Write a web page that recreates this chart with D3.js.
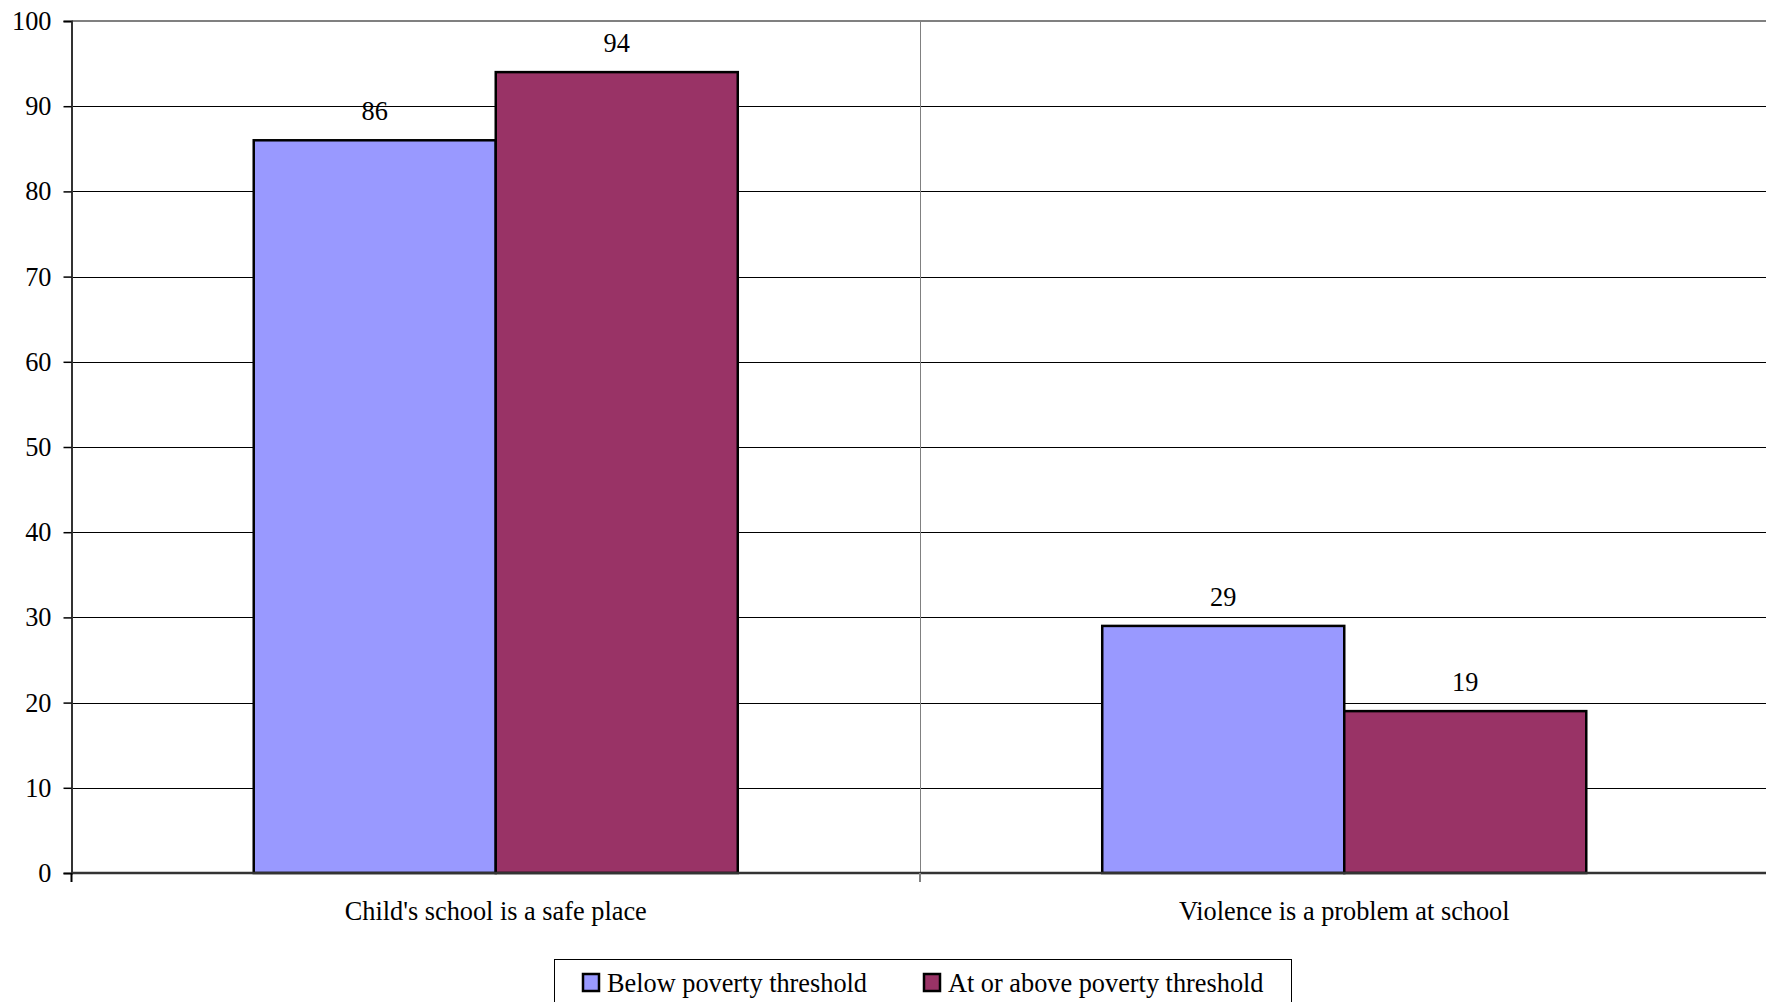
<!DOCTYPE html>
<html>
<head>
<meta charset="utf-8">
<script src="https://cdn.jsdelivr.net/npm/d3@7"></script>
<style>
    body { margin: 0; background: #fff; }
    svg, svg text { font-family: "Liberation Serif", "Times New Roman", serif; }
</style>
</head>
<body>
<main></main>
<script>

// Datos
const categorias = ["Child's school is a safe place", "Violence is a problem at school"];
const series = ["Below poverty threshold", "At or above poverty threshold"];
const debajo = [86, 29];
const encima = [94, 19];
const colores = ["#9999FF", "#993366"];
const ticksY = [0, 10, 20, 30, 40, 50, 60, 70, 80, 90, 100];

const valores = [debajo, encima];

// Tamaño
const [w, h] = [1766, 1002];
const margen = { left: 71.5, right: 1768.5, top: 21, bottom: 873 };
const fuente = '"Liberation Serif", "Times New Roman", serif';
const tamFuente = 26.3;

const svg = d3.select('main')
    .append('svg')
    .attr('width', w)
    .attr('height', h)
    .attr('font-family', fuente);

// Escalas
const xScale = d3.scaleBand()
    .domain(categorias)
    .range([margen.left, margen.right])
    .padding(0);

const xSerie = d3.scaleBand()
    .domain(series)
    .range([0, xScale.bandwidth()])
    .paddingInner(0)
    .paddingOuter(0.753);

const yScale = d3.scaleLinear()
    .domain([0, 100])
    .range([margen.bottom, margen.top]);

// Rejilla horizontal
svg.append('g')
    .selectAll('line')
    .data(ticksY.filter(t => t > 0 && t < 100))
    .enter()
    .append('line')
    .attr('x1', margen.left)
    .attr('x2', margen.right)
    .attr('y1', d => Math.round(yScale(d)) + 0.5)
    .attr('y2', d => Math.round(yScale(d)) + 0.5)
    .attr('stroke', '#000')
    .attr('stroke-width', 1);

// Linea superior (gris)
svg.append('line')
    .attr('x1', margen.left)
    .attr('x2', margen.right)
    .attr('y1', yScale(100))
    .attr('y2', yScale(100))
    .attr('stroke', '#808080')
    .attr('stroke-width', 2);

// Separador vertical entre categorias
svg.append('line')
    .attr('x1', xScale(categorias[1]) + 0.5)
    .attr('x2', xScale(categorias[1]) + 0.5)
    .attr('y1', margen.top)
    .attr('y2', margen.bottom)
    .attr('stroke', '#808080')
    .attr('stroke-width', 1);

// Barras
categorias.forEach((c, i) => {
    svg.append('g')
        .selectAll('rect')
        .data(series)
        .enter()
        .append('rect')
        .attr('x', s => xScale(c) + xSerie(s))
        .attr('y', (s, j) => yScale(valores[j][i]))
        .attr('width', xSerie.bandwidth())
        .attr('height', (s, j) => yScale(0) - yScale(valores[j][i]))
        .attr('fill', (s, j) => colores[j])
        .attr('stroke', '#000')
        .attr('stroke-width', 2.5);

    // Etiquetas de valor
    svg.append('g')
        .selectAll('text')
        .data(series)
        .enter()
        .append('text')
        .attr('x', s => xScale(c) + xSerie(s) + xSerie.bandwidth() / 2)
        .attr('y', (s, j) => yScale(valores[j][i]) - 20)
        .attr('text-anchor', 'middle')
        .attr('font-family', fuente)
        .attr('font-size', tamFuente)
        .attr('fill', '#000')
        .text((s, j) => valores[j][i]);
});

// Eje Y
const ejeY = d3.axisLeft(yScale)
    .tickValues(ticksY)
    .tickSize(8)
    .tickPadding(12);

const gY = svg.append('g')
    .attr('transform', 'translate(' + margen.left + ',0)')
    .call(ejeY)
    .attr('font-family', fuente);

gY.select('.domain').attr('stroke', '#333').attr('stroke-width', 2);
gY.selectAll('.tick line').attr('stroke', '#000').attr('stroke-width', 1.5);
gY.selectAll('.tick text')
    .attr('font-size', tamFuente)
    .attr('font-family', fuente)
    .attr('fill', '#000');

// Eje X
const gX = svg.append('g')
    .attr('transform', 'translate(0,' + margen.bottom + ')');

gX.append('line')
    .attr('x1', margen.left)
    .attr('x2', margen.right)
    .attr('stroke', '#333')
    .attr('stroke-width', 2.5);

// Marcas en los limites de categoria
gX.selectAll('.marca')
    .data([margen.left, xScale(categorias[1])])
    .enter()
    .append('line')
    .attr('class', 'marca')
    .attr('x1', d => d)
    .attr('x2', d => d)
    .attr('y1', 0)
    .attr('y2', 9)
    .attr('stroke', (d, i) => i === 0 ? '#000' : '#808080')
    .attr('stroke-width', 2);

gX.selectAll('.etiqueta')
    .data(categorias)
    .enter()
    .append('text')
    .attr('class', 'etiqueta')
    .attr('x', d => xScale(d) + xScale.bandwidth() / 2)
    .attr('y', 47)
    .attr('text-anchor', 'middle')
    .attr('font-family', fuente)
    .attr('font-size', tamFuente)
    .attr('fill', '#000')
    .text(d => d);

// Leyenda
const leyenda = svg.append('g');

leyenda.append('rect')
    .attr('x', 554.5)
    .attr('y', 959.5)
    .attr('width', 737)
    .attr('height', 60)
    .attr('fill', '#fff')
    .attr('stroke', '#000')
    .attr('stroke-width', 1);

const posLeyenda = [583, 924];

series.forEach((s, j) => {
    leyenda.append('rect')
        .attr('x', posLeyenda[j])
        .attr('y', 974)
        .attr('width', 16)
        .attr('height', 17)
        .attr('fill', colores[j])
        .attr('stroke', '#000')
        .attr('stroke-width', 2.5);

    leyenda.append('text')
        .attr('x', posLeyenda[j] + 24)
        .attr('y', 992)
        .attr('font-family', fuente)
        .attr('font-size', tamFuente)
        .attr('fill', '#000')
        .text(s);
});

</script>
</body>
</html>
